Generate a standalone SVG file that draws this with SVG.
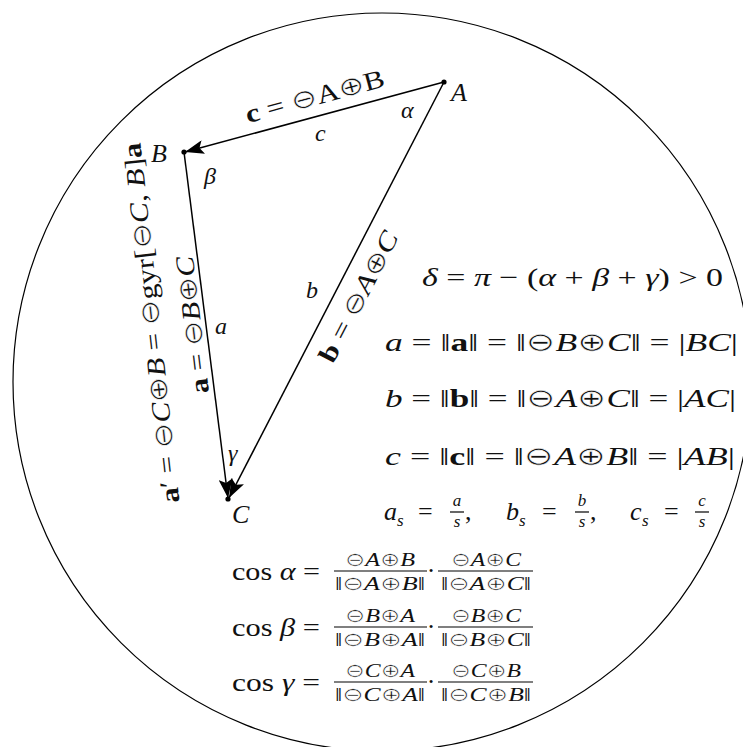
<svg xmlns="http://www.w3.org/2000/svg" width="743" height="747" viewBox="0 0 743 747">
<style>
text{font-family:"Liberation Serif","DejaVu Serif",serif;fill:#111}
.f25{font-size:26px}
.f22{font-size:24px}
.f18{font-size:19px}
.f16{font-size:17px}
.i{font-style:italic}
.b{font-weight:bold}
.o{font-family:"DejaVu Sans","DejaVu Serif",sans-serif;font-style:normal;font-weight:normal;stroke:#fff;stroke-width:0.6}
.edge{stroke:#000;stroke-width:1.5;fill:none}
.bar{stroke:#000;stroke-width:1.2}
.dot{fill:#000}
</style>
<defs>
<marker id="arr" markerUnits="userSpaceOnUse" markerWidth="20" markerHeight="14" refX="19" refY="7" orient="auto"><path d="M0,0 L19,7 L0,14 L4,7 z" fill="#000"/></marker>
</defs>
<circle id="disc" cx="382" cy="382" r="369" fill="none" stroke="#000" stroke-width="1.2"/>
<g id="connectors">
<line class="edge" x1="444" y1="82" x2="185" y2="152" marker-end="url(#arr)"/>
<line class="edge" x1="184" y1="152" x2="228" y2="498" marker-end="url(#arr)"/>
<line class="edge" x1="444" y1="82" x2="229" y2="498" marker-end="url(#arr)"/>
</g>
<g id="node-A"><circle class="dot" cx="444" cy="82" r="2.6"/><text class="f25 i" x="451" y="101">A</text></g>
<g id="node-B"><circle class="dot" cx="184" cy="152" r="2.6"/><text class="f25 i" x="151" y="162">B</text></g>
<g id="node-C"><circle class="dot" cx="228" cy="499" r="2.6"/><text class="f25 i" x="232" y="523">C</text></g>
<g id="edge-labels">
<g transform="translate(315,97) rotate(-15.1)"><text class="f25" text-anchor="middle" y="8" textLength="143" lengthAdjust="spacingAndGlyphs"><tspan class="b">c</tspan> = <tspan class="o">⊖</tspan>A<tspan class="o">⊕</tspan>B</text></g>
<text class="f22 i" x="315" y="141">c</text>
<text class="f22 i" x="401" y="118">α</text>
<text class="f22 i" x="204" y="184">β</text>
<text class="f22 i" x="228" y="461">γ</text>
<text class="f22 i" x="215" y="334">a</text>
<text class="f22 i" x="306" y="298">b</text>
<g transform="translate(359,297) rotate(-62.6)"><text class="f25" text-anchor="middle" y="8" textLength="144" lengthAdjust="spacingAndGlyphs"><tspan class="b">b</tspan> = <tspan class="o">⊖</tspan><tspan class="i">A</tspan><tspan class="o">⊕</tspan><tspan class="i">C</tspan></text></g>
<g transform="translate(193,325) rotate(-96.8)"><text class="f25" text-anchor="middle" y="8" textLength="138" lengthAdjust="spacingAndGlyphs"><tspan class="b">a</tspan> = <tspan class="o">⊖</tspan><tspan class="i">B</tspan><tspan class="o">⊕</tspan><tspan class="i">C</tspan></text></g>
<g transform="translate(152,323) rotate(-96.2)"><text class="f25" text-anchor="middle" y="8" textLength="362" lengthAdjust="spacingAndGlyphs"><tspan class="b">a</tspan>′ = <tspan class="o">⊖</tspan><tspan class="i">C</tspan><tspan class="o">⊕</tspan><tspan class="i">B</tspan> = <tspan class="o">⊖</tspan>gyr[<tspan class="o">⊖</tspan><tspan class="i">C</tspan>, <tspan class="i">B</tspan>]<tspan class="b">a</tspan></text></g>
</g>
<g id="formulas-right">
<text class="f25" x="422" y="286" textLength="301" lengthAdjust="spacingAndGlyphs"><tspan class="i">δ</tspan> = <tspan class="i">π</tspan> − (<tspan class="i">α</tspan> + <tspan class="i">β</tspan> + <tspan class="i">γ</tspan>) &gt; 0</text>
<text class="f25" x="385" y="351" textLength="353" lengthAdjust="spacingAndGlyphs"><tspan class="i">a</tspan> = ‖<tspan class="b">a</tspan>‖ = ‖<tspan class="o">⊖</tspan><tspan class="i">B</tspan><tspan class="o">⊕</tspan><tspan class="i">C</tspan>‖ = |<tspan class="i">BC</tspan>|</text>
<text class="f25" x="385" y="407" textLength="351" lengthAdjust="spacingAndGlyphs"><tspan class="i">b</tspan> = ‖<tspan class="b">b</tspan>‖ = ‖<tspan class="o">⊖</tspan><tspan class="i">A</tspan><tspan class="o">⊕</tspan><tspan class="i">C</tspan>‖ = |<tspan class="i">AC</tspan>|</text>
<text class="f25" x="385" y="465" textLength="350" lengthAdjust="spacingAndGlyphs"><tspan class="i">c</tspan> = ‖<tspan class="b">c</tspan>‖ = ‖<tspan class="o">⊖</tspan><tspan class="i">A</tspan><tspan class="o">⊕</tspan><tspan class="i">B</tspan>‖ = |<tspan class="i">AB</tspan>|</text>
</g>
<g id="scaled-sides">
<text class="f25 i" x="384" y="520">a</text><text class="f16 i" x="397" y="526">s</text>
<text class="f25" x="418" y="520">=</text>
<text class="f16 i" x="457" y="506" text-anchor="middle">a</text><line class="bar" x1="450" y1="512" x2="464" y2="512"/><text class="f16 i" x="457" y="527" text-anchor="middle">s</text>
<text class="f25" x="465" y="520">,</text>
<text class="f25 i" x="506" y="520">b</text><text class="f16 i" x="519" y="526">s</text>
<text class="f25" x="542" y="520">=</text>
<text class="f16 i" x="582" y="506" text-anchor="middle">b</text><line class="bar" x1="575" y1="512" x2="589" y2="512"/><text class="f16 i" x="582" y="527" text-anchor="middle">s</text>
<text class="f25" x="590" y="520">,</text>
<text class="f25 i" x="630" y="520">c</text><text class="f16 i" x="642" y="526">s</text>
<text class="f25" x="664" y="520">=</text>
<text class="f16 i" x="702" y="506" text-anchor="middle">c</text><line class="bar" x1="695" y1="512" x2="709" y2="512"/><text class="f16 i" x="702" y="527" text-anchor="middle">s</text>
</g>
<g id="cos-alpha">
<text class="f25" x="232" y="580" textLength="88" lengthAdjust="spacingAndGlyphs">cos <tspan class="i">α</tspan> =</text>
<text class="f18" x="380" y="566" text-anchor="middle" textLength="70" lengthAdjust="spacingAndGlyphs"><tspan class="o">⊖</tspan><tspan class="i">A</tspan><tspan class="o">⊕</tspan><tspan class="i">B</tspan></text>
<line class="bar" x1="334" y1="571" x2="427" y2="571"/>
<text class="f18" x="380" y="590" text-anchor="middle" textLength="90" lengthAdjust="spacingAndGlyphs">‖<tspan class="o">⊖</tspan><tspan class="i">A</tspan><tspan class="o">⊕</tspan><tspan class="i">B</tspan>‖</text>
<text class="f25" x="431" y="579" text-anchor="middle">·</text>
<text class="f18" x="486" y="566" text-anchor="middle" textLength="70" lengthAdjust="spacingAndGlyphs"><tspan class="o">⊖</tspan><tspan class="i">A</tspan><tspan class="o">⊕</tspan><tspan class="i">C</tspan></text>
<line class="bar" x1="438" y1="571" x2="533" y2="571"/>
<text class="f18" x="486" y="590" text-anchor="middle" textLength="90" lengthAdjust="spacingAndGlyphs">‖<tspan class="o">⊖</tspan><tspan class="i">A</tspan><tspan class="o">⊕</tspan><tspan class="i">C</tspan>‖</text>
</g>
<g id="cos-beta">
<text class="f25" x="232" y="636" textLength="88" lengthAdjust="spacingAndGlyphs">cos <tspan class="i">β</tspan> =</text>
<text class="f18" x="380" y="622" text-anchor="middle" textLength="70" lengthAdjust="spacingAndGlyphs"><tspan class="o">⊖</tspan><tspan class="i">B</tspan><tspan class="o">⊕</tspan><tspan class="i">A</tspan></text>
<line class="bar" x1="334" y1="627" x2="427" y2="627"/>
<text class="f18" x="380" y="646" text-anchor="middle" textLength="90" lengthAdjust="spacingAndGlyphs">‖<tspan class="o">⊖</tspan><tspan class="i">B</tspan><tspan class="o">⊕</tspan><tspan class="i">A</tspan>‖</text>
<text class="f25" x="431" y="635" text-anchor="middle">·</text>
<text class="f18" x="486" y="622" text-anchor="middle" textLength="70" lengthAdjust="spacingAndGlyphs"><tspan class="o">⊖</tspan><tspan class="i">B</tspan><tspan class="o">⊕</tspan><tspan class="i">C</tspan></text>
<line class="bar" x1="438" y1="627" x2="533" y2="627"/>
<text class="f18" x="486" y="646" text-anchor="middle" textLength="90" lengthAdjust="spacingAndGlyphs">‖<tspan class="o">⊖</tspan><tspan class="i">B</tspan><tspan class="o">⊕</tspan><tspan class="i">C</tspan>‖</text>
</g>
<g id="cos-gamma">
<text class="f25" x="232" y="691" textLength="88" lengthAdjust="spacingAndGlyphs">cos <tspan class="i">γ</tspan> =</text>
<text class="f18" x="380" y="677" text-anchor="middle" textLength="70" lengthAdjust="spacingAndGlyphs"><tspan class="o">⊖</tspan><tspan class="i">C</tspan><tspan class="o">⊕</tspan><tspan class="i">A</tspan></text>
<line class="bar" x1="334" y1="682" x2="427" y2="682"/>
<text class="f18" x="380" y="701" text-anchor="middle" textLength="90" lengthAdjust="spacingAndGlyphs">‖<tspan class="o">⊖</tspan><tspan class="i">C</tspan><tspan class="o">⊕</tspan><tspan class="i">A</tspan>‖</text>
<text class="f25" x="431" y="690" text-anchor="middle">·</text>
<text class="f18" x="486" y="677" text-anchor="middle" textLength="70" lengthAdjust="spacingAndGlyphs"><tspan class="o">⊖</tspan><tspan class="i">C</tspan><tspan class="o">⊕</tspan><tspan class="i">B</tspan></text>
<line class="bar" x1="438" y1="682" x2="533" y2="682"/>
<text class="f18" x="486" y="701" text-anchor="middle" textLength="90" lengthAdjust="spacingAndGlyphs">‖<tspan class="o">⊖</tspan><tspan class="i">C</tspan><tspan class="o">⊕</tspan><tspan class="i">B</tspan>‖</text>
</g>
</svg>
